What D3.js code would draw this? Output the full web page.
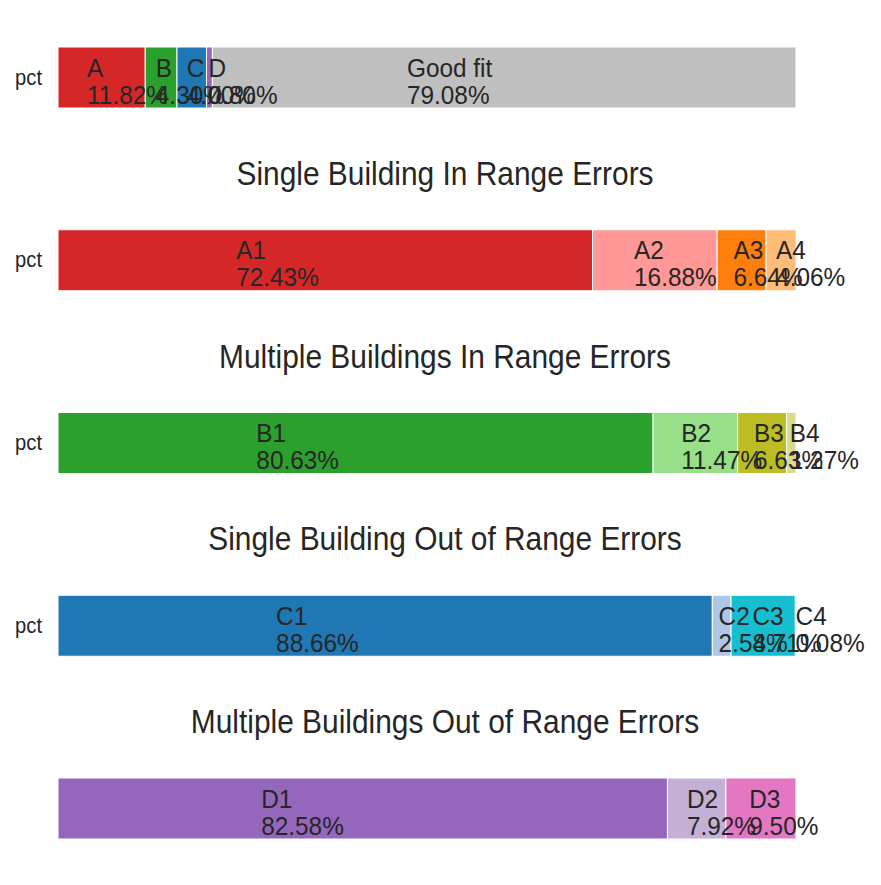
<!DOCTYPE html>
<html>
<head>
<meta charset="utf-8">
<script src="https://cdn.jsdelivr.net/npm/d3@7"></script>
<style>
  html, body { margin: 0; padding: 0; background: #fff; }
  svg { display: block; font-family: "Liberation Sans", Arial, sans-serif; }
</style>
</head>
<body>
<svg id="chart" width="881" height="885"></svg>
<script>
// ---- data ----
const titles = ["", "Single Building In Range Errors", "Multiple Buildings In Range Errors",
                "Single Building Out of Range Errors", "Multiple Buildings Out of Range Errors"];
const overviewCats = ["A", "B", "C", "D", "Good fit"];
const overviewVals = [11.82, 4.30, 4.00, 0.80, 79.08];
const aCats = ["A1", "A2", "A3", "A4"];
const aVals = [72.43, 16.88, 6.64, 4.06];
const bCats = ["B1", "B2", "B3", "B4"];
const bVals = [80.63, 11.47, 6.63, 1.27];
const cCats = ["C1", "C2", "C3", "C4"];
const cVals = [88.66, 2.54, 8.71, 0.08];
const dCats = ["D1", "D2", "D3"];
const dVals = [82.58, 7.92, 9.50];
const rowTickLabels = ["pct", "pct", "pct", "pct", ""];

const colors = {
  "A": "#d62728", "B": "#2ca02c", "C": "#1f77b4", "D": "#9467bd", "Good fit": "#bfbfbf",
  "A1": "#d62728", "A2": "#ff9896", "A3": "#ff7f0e", "A4": "#ffbb78",
  "B1": "#2ca02c", "B2": "#98df8a", "B3": "#bcbd22", "B4": "#dbdb8d",
  "C1": "#1f77b4", "C2": "#aec7e8", "C3": "#17becf", "C4": "#9edae5",
  "D1": "#9467bd", "D2": "#c5b0d5", "D3": "#e377c2"
};

const rows = [
  {cats: overviewCats, vals: overviewVals},
  {cats: aCats, vals: aVals},
  {cats: bCats, vals: bVals},
  {cats: cCats, vals: cVals},
  {cats: dCats, vals: dVals}
];

// ---- layout ----
const svg = d3.select("#chart");
const textColor = "#262626";
const squeeze = 0.92;
const x = d3.scaleLinear().domain([0, 100]).range([58, 796]);
const rowStep = 182.75;
const barH = 61;
const firstTop = 47;

function addText(g, tx, ty, str, size, anchor) {
  return g.append("text")
    .attr("transform", `translate(${tx},${ty}) scale(${squeeze},1)`)
    .attr("text-anchor", anchor || "start")
    .attr("font-size", size)
    .attr("fill", textColor)
    .text(str);
}

rows.forEach((row, i) => {
  const top = firstTop + i * rowStep;
  const g = svg.append("g");
  const y = d3.scaleBand().domain([rowTickLabels[i] || "pct"]).range([top, top + barH]).padding(0);

  let acc = 0;
  const segs = row.cats.map((c, j) => {
    const s = {cat: c, val: row.vals[j], x0: acc, x1: acc + row.vals[j]};
    acc += row.vals[j];
    return s;
  });

  g.selectAll("rect").data(segs).enter().append("rect")
    .attr("x", d => x(d.x0))
    .attr("y", y.range()[0])
    .attr("width", d => Math.max(0, x(d.x1) - x(d.x0)))
    .attr("height", y.bandwidth())
    .attr("fill", d => colors[d.cat])
    .attr("stroke", "#fff")
    .attr("stroke-width", 1);

  const cy = top + barH / 2;
  segs.forEach(d => {
    const lx = x(d.x0) + (x(d.x1) - x(d.x0)) / 3;
    addText(g, lx, cy - 1, d.cat, 26.5);
    addText(g, lx, cy + 26, d.val.toFixed(2) + "%", 26.5);
  });

  if (rowTickLabels[i]) {
    const ax = d3.axisLeft(y).tickSize(0).tickPadding(16);
    const axg = g.append("g").attr("transform", `translate(${x(0)},0)`).call(ax);
    axg.select(".domain").remove();
    axg.selectAll("text")
      .attr("font-size", 22).attr("fill", textColor)
      .attr("font-family", "Liberation Sans, Arial, sans-serif")
      .attr("transform", `translate(-16,0) scale(${squeeze},1) translate(16,0)`);
  }

  if (titles[i]) {
    addText(g, 445, top - 45, titles[i], 32.5, "middle");
  }
});
</script>
</body>
</html>
